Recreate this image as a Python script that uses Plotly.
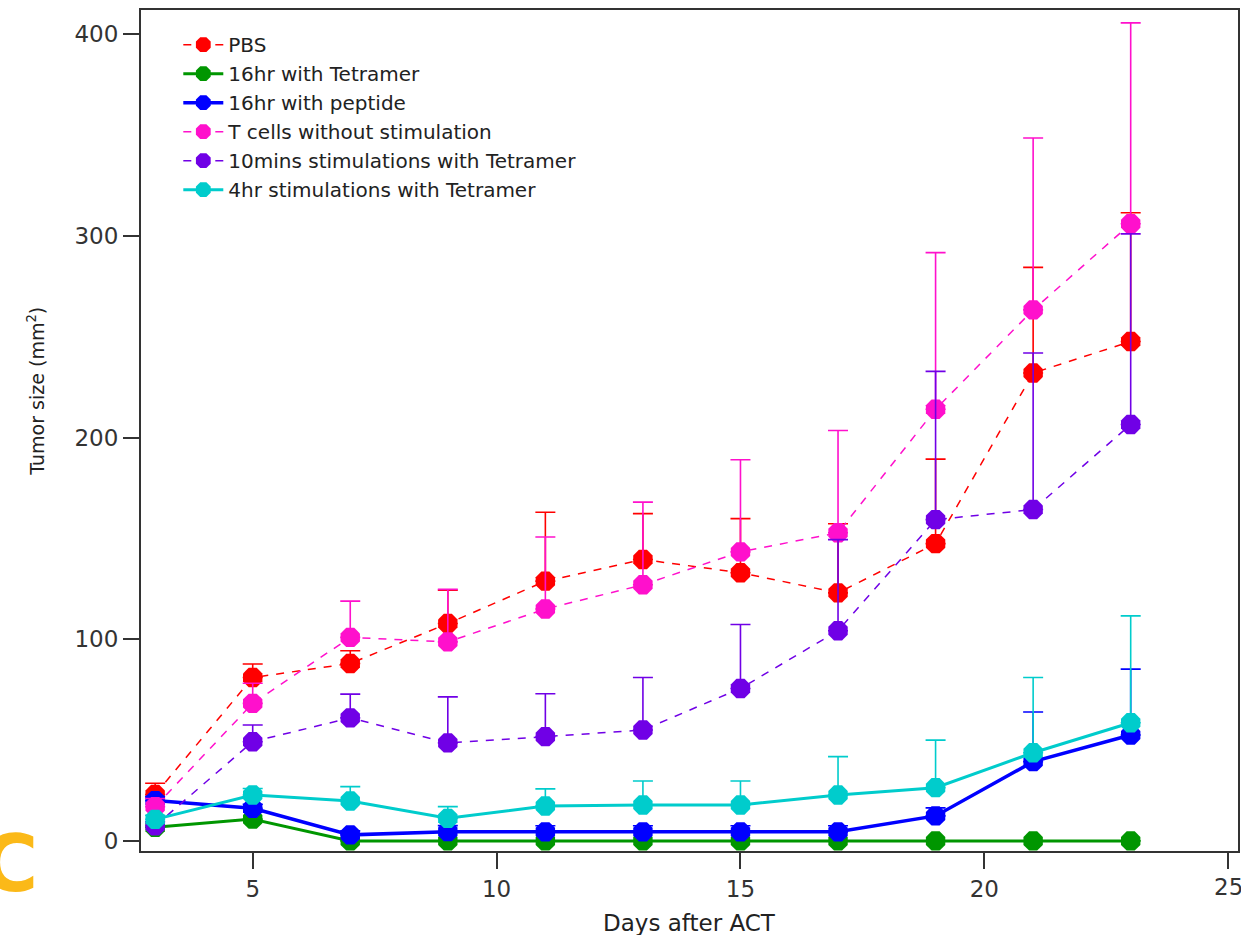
import plotly.graph_objects as go

days = [3, 5, 7, 9, 11, 13, 15, 17, 19, 21, 23]
x_ticks = [5, 10, 15, 20, 25]
y_ticks = [0, 100, 200, 300, 400]

pbs = [23, 81, 88, 107.8, 128.8, 139.5, 133, 123, 147.4, 232, 247.6]
pbs_err = [5.6, 6.7, 6.3, 16.5, 34.2, 22.8, 26.8, 34.3, 41.9, 52.4, 63.9]

tet16 = [6.8, 10.8, 0, 0, 0, 0, 0, 0, 0, 0, 0]
tet16_err = [0, 0, 0, 0, 0, 0, 0, 0, 0, 0, 0]

pep16 = [20, 16.2, 3, 4.6, 4.5, 4.5, 4.5, 4.5, 12.4, 39.3, 52.5]
pep16_err = [2, 2, 2, 3, 3, 3, 3, 3, 4, 24.6, 32.7]

tcells = [17, 68.2, 100.9, 98.7, 115, 127, 143.3, 152.8, 214, 263.3, 306]
tcells_err = [4, 10, 18, 26, 35.7, 41, 45.7, 50.7, 77.7, 85.2, 99.6]

min10 = [7.5, 49.2, 61, 48.6, 51.7, 55, 75.6, 104.2, 159.3, 164.3, 206.5]
min10_err = [2, 8.3, 11.8, 22.8, 21.3, 26, 31.7, 45.2, 73.5, 77.6, 94.5]

hr4 = [10.7, 22.8, 19.8, 11.2, 17.3, 17.8, 17.8, 22.8, 26.4, 43.7, 58.6]
hr4_err = [2, 3.2, 7.1, 5.8, 8.5, 11.9, 11.9, 19, 23.6, 37.3, 53]

series = [
    ("PBS", pbs, pbs_err, "#FF0000", "dash", 1.5),
    ("16hr with Tetramer", tet16, tet16_err, "#009600", "solid", 3),
    ("16hr with peptide", pep16, pep16_err, "#0000FF", "solid", 3.5),
    ("T cells without stimulation", tcells, tcells_err, "#FF10CC", "dash", 1.5),
    ("10mins stimulations with Tetramer", min10, min10_err, "#7000E6", "dash", 1.5),
    ("4hr stimulations with Tetramer", hr4, hr4_err, "#00CCCC", "solid", 3),
]

fig = go.Figure()
for name, ys, errs, color, dash, lw in series:
    fig.add_trace(go.Scatter(
        x=days, y=ys, name=name, mode="lines+markers",
        line=dict(color=color, width=lw, dash=("8px,8px" if dash == "dash" else "solid")),
        marker=dict(symbol="octagon", size=21, color=color, line=dict(width=0)),
        error_y=dict(type="data", symmetric=False, array=errs,
                     arrayminus=[0] * len(errs), color=color, thickness=1.6, width=10),
    ))

axis_font = dict(family="DejaVu Sans", size=23, color="#333333")
fig.update_layout(
    width=1241, height=935,
    margin=dict(l=141, r=1, t=10, b=84),
    paper_bgcolor="white", plot_bgcolor="white",
    font=dict(family="DejaVu Sans", color="#222222"),
    showlegend=True,
    legend=dict(x=0.034, y=0.982, xanchor="left", yanchor="top",
                bgcolor="rgba(0,0,0,0)", font=dict(family="DejaVu Sans", size=20, color="#222222"),
                tracegroupgap=0, itemwidth=40),
    xaxis=dict(range=[2.71, 25.2], tickvals=x_ticks, ticks="outside",
               ticklen=16, tickwidth=2, tickcolor="#333", showline=True, linecolor="#333",
               linewidth=2, mirror=True, showgrid=False, zeroline=False,
               tickfont=axis_font),
    yaxis=dict(range=[-5, 412], tickvals=y_ticks, ticks="outside",
               ticklen=16, tickwidth=2, tickcolor="#333", showline=True, linecolor="#333",
               linewidth=2, mirror=True, showgrid=False, zeroline=False,
               tickfont=axis_font),
)

# last x tick label (clipped at the right edge, as in the original)
fig.add_annotation(text=str(x_ticks[-1]), xref="x", yref="paper", x=x_ticks[-1], y=0,
                   xanchor="center", yanchor="top", yshift=-21, showarrow=False,
                   font=axis_font)

# axis titles
fig.add_annotation(text="Days after ACT", xref="paper", yref="paper", x=0.5, y=0,
                   xanchor="center", yanchor="top", yshift=-57, showarrow=False,
                   font=dict(family="DejaVu Sans", size=23, color="#222"))
fig.add_annotation(text="Tumor size (mm<sup>2</sup>)", xref="paper", yref="paper",
                   x=-0.096, y=0.547, xanchor="center", yanchor="middle", textangle=-90,
                   showarrow=False, font=dict(family="DejaVu Sans", size=19, color="#222"))

# partial logo at bottom-left
fig.add_annotation(text="<b>C</b>", xref="paper", yref="paper", x=-0.0919, y=-0.016,
                   xanchor="right", yanchor="middle", showarrow=False,
                   font=dict(family="DejaVu Sans", size=78, color="#FBB918"))

fig.write_html("out.html")
